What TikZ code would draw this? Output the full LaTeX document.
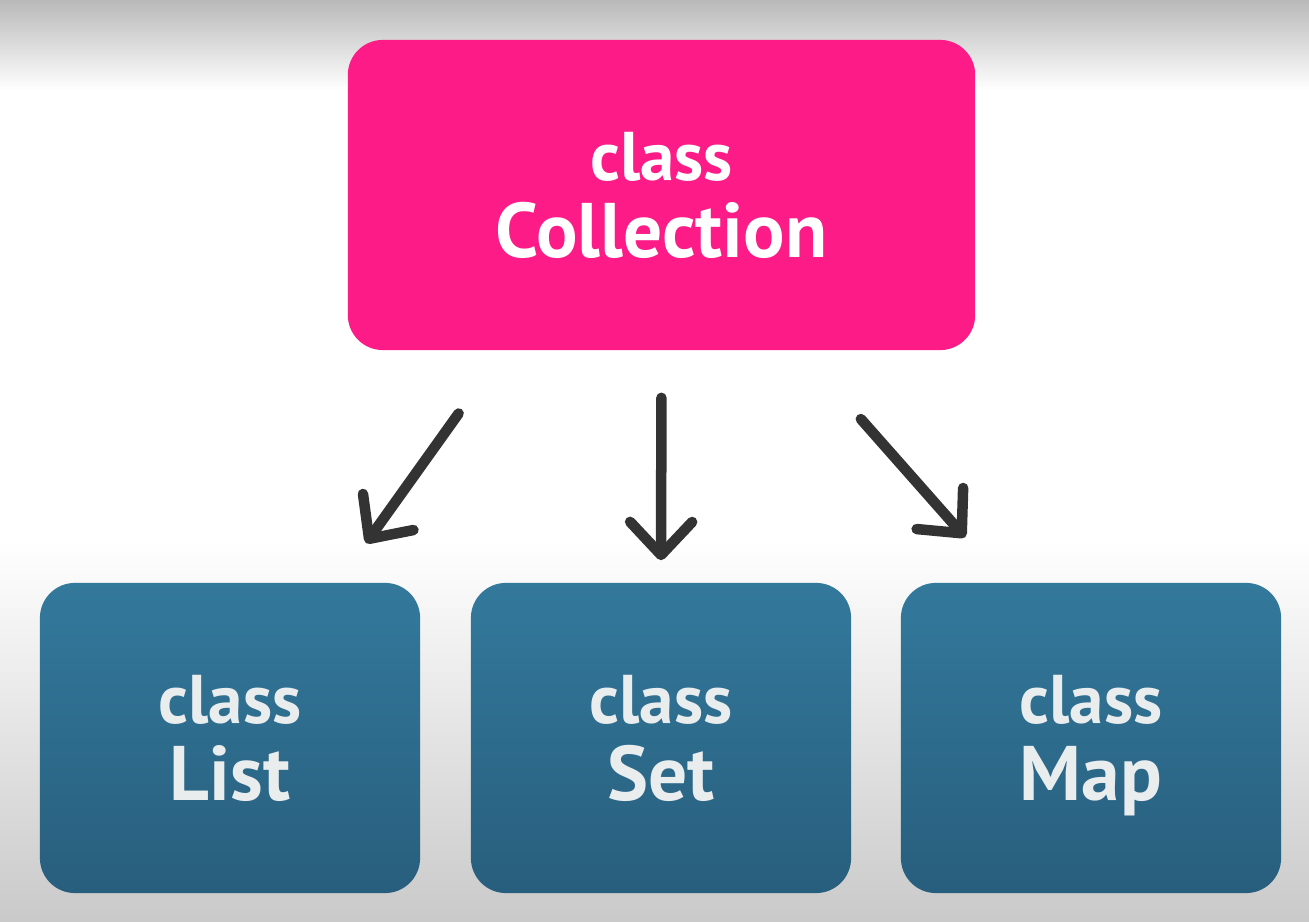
\documentclass[tikz,border=0pt]{standalone}
\usepackage{fontspec}
\setmainfont{PT Sans}
\usetikzlibrary{arrows.meta,positioning,calc}
\definecolor{PinkMid}{RGB}{253,27,136}
\definecolor{BlueTop}{RGB}{51,121,156}
\definecolor{BlueBot}{RGB}{40,94,125}
\definecolor{TextLight}{RGB}{234,237,238}
\definecolor{ArrowDark}{RGB}{51,51,51}
\newcommand{\clslabel}[1]{{\fontsize{19.6}{22}\selectfont class}\\\raisebox{0pt}[\height][0pt]{#1}}

\begin{document}
\begin{tikzpicture}[x=0.01cm,y=-0.01cm,
    topbox/.style={rectangle,rounded corners=0.35cm,fill=PinkMid,text=white,
                   minimum width=6.27cm,minimum height=3.1cm,inner sep=0pt,
                   align=center,font=\bfseries\fontsize{22}{22}\selectfont},
    subbox/.style={rectangle,rounded corners=0.35cm,top color=BlueTop,bottom color=BlueBot,
                   text=TextLight,minimum width=3.8cm,minimum height=3.1cm,inner sep=0pt,
                   align=center,font=\bfseries\fontsize{22}{22}\selectfont},
    arr/.style={draw=ArrowDark,line width=0.105cm,line cap=round,
                -{Straight Barb[round,length=0.33cm,width=0.62cm]}}
  ]
  % background
  \fill[white] (0,0) rectangle (1309,922);
  \shade[top color=gray!55,bottom color=white] (0,0) rectangle (1309,90);
  \shade[top color=white,bottom color=gray!42] (0,540) rectangle (1309,922);

  \node[topbox] (coll) at (661.5,195) {\clslabel{Collection}};
  \node[subbox] (list) at (230,738) {\clslabel{List}};
  \node[subbox] (set) at (661,738) {\clslabel{Set}};
  \node[subbox] (map) at (1091,738) {\clslabel{Map}};

  \draw[arr,shorten <=0.77cm,shorten >=0.48cm] ([xshift=-1.58cm]coll.south) -- ([xshift=1.08cm]list.north);
  \draw[arr,shorten <=0.47cm,shorten >=0.22cm] (coll.south) -- (set.north);
  \draw[arr,shorten <=0.91cm,shorten >=0.6cm] ([xshift=1.39cm]coll.south) -- ([xshift=-0.86cm]map.north);
\end{tikzpicture}
\end{document}
